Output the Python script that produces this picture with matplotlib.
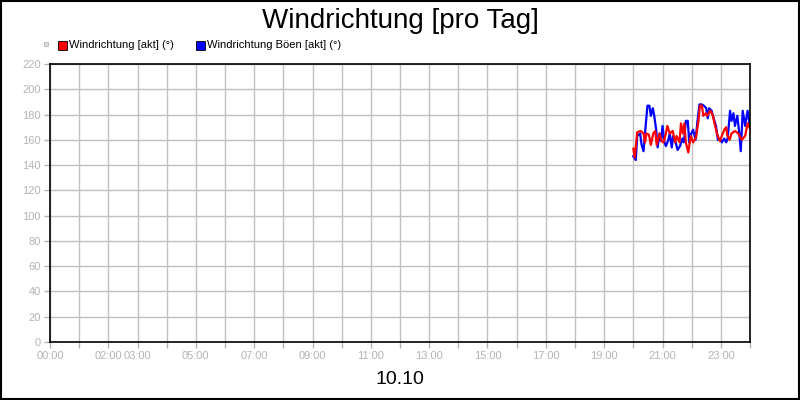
import numpy as np
import matplotlib
matplotlib.use("Agg")
import matplotlib.pyplot as plt
from matplotlib.patches import Rectangle

plt.rcParams["font.family"] = ["Liberation Sans", "DejaVu Sans"]

# ── data (minutes after 20:00, degrees) ──────────────────────────────────
red_min = [0, 3, 8, 15, 21, 24, 27, 32, 36, 41, 45, 48, 54, 58, 62, 67, 70, 75,
           81, 86, 89, 95, 98, 102, 105, 108, 113, 118, 123, 129, 134, 137, 141,
           144, 149, 152, 158, 163, 167, 172, 178, 182, 187, 191, 193, 198, 202,
           209, 216, 223, 230, 235, 240]
red_val = [153, 146, 166, 167, 165, 158, 165, 164, 156, 165, 167, 156, 165, 159,
           158, 165, 171, 165, 167, 158, 163, 158, 173, 165, 173, 158, 150, 163,
           158, 162, 175, 187, 187, 179, 181, 179, 183, 180, 173, 165, 159, 163,
           168, 170, 164, 160, 165, 167, 165, 160, 163, 173, 169]

blue_min = [0, 5, 8, 14, 17, 21, 24, 29, 33, 36, 40, 43, 47, 50, 54, 57, 60, 64,
            67, 72, 75, 79, 82, 87, 91, 96, 101, 104, 108, 112, 115, 119, 123,
            128, 132, 136, 141, 145, 150, 153, 156, 161, 166, 170, 174, 178, 182,
            187, 191, 194, 199, 202, 206, 209, 214, 218, 221, 225, 230, 235, 239]
blue_val = [147, 144, 163, 165, 156, 151, 165, 187, 187, 179, 185, 179, 168, 154,
            165, 159, 171, 158, 155, 160, 165, 154, 163, 158, 152, 155, 161, 158,
            175, 175, 158, 165, 168, 160, 175, 188, 188, 187, 185, 177, 185, 183,
            176, 171, 160, 161, 158, 161, 158, 161, 183, 175, 181, 171, 179, 165,
            151, 183, 171, 183, 173]

hour_labels = {0: "00:00", 2: "02:00", 3: "03:00", 5: "05:00", 7: "07:00",
               9: "09:00", 11: "11:00", 13: "13:00", 15: "15:00", 17: "17:00",
               19: "19:00", 21: "21:00", 23: "23:00"}

START_HOUR = 20
GRAY = "#b4b4b4"

red_h = START_HOUR + np.array(red_min) / 60.0
blue_h = START_HOUR + np.array(blue_min) / 60.0

fig = plt.figure(figsize=(8, 4), dpi=100)
fig.patch.set_facecolor("white")
ax = fig.add_axes([0.0625, 0.145, 0.875, 0.695])

ax.plot(blue_h, blue_val, color="#0000ff", lw=1.6, label="Windrichtung Böen [akt] (°)")
ax.plot(red_h, red_val, color="#ff0000", lw=1.6, label="Windrichtung [akt] (°)")

ax.set_xlim(0, 24)
ax.set_ylim(0, 220)
ax.set_xticks(range(0, 25))
ax.set_xticklabels([hour_labels.get(h, "") for h in range(0, 25)])
ax.set_yticks(range(0, 221, 20))
ax.grid(True, color="#c0c0c0", lw=1)
ax.set_axisbelow(True)
ax.tick_params(colors=GRAY, labelcolor=GRAY, labelsize=8, length=4, width=1, pad=2.5)
for s in ax.spines.values():
    s.set_color("black")
    s.set_linewidth(1.2)

fig.text(0.5, 0.948, "Windrichtung [pro Tag]", ha="center", va="center", fontsize=20)
fig.text(0.5, 0.05, "10.10", ha="center", va="center", fontsize=14)

# legend row
fig.patches.append(Rectangle((0.055, 0.885), 0.005, 0.01, transform=fig.transFigure,
                             facecolor="#dddddd", edgecolor="#aaaaaa", lw=0.5))
legend_items = [("#ff0000", "Windrichtung [akt] (°)", 0.0725),
                ("#0000ff", "Windrichtung Böen [akt] (°)", 0.2445)]
for col, txt, x0 in legend_items:
    fig.patches.append(Rectangle((x0, 0.875), 0.0115, 0.023, transform=fig.transFigure,
                                 facecolor=col, edgecolor="black", lw=0.6))
    fig.text(x0 + 0.014, 0.887, txt, ha="left", va="center", fontsize=8)

# outer frame
fig.patches.append(Rectangle((0.001, 0.002), 0.998, 0.996, transform=fig.transFigure,
                             fill=False, edgecolor="black", lw=1.5))

fig.savefig("out.png", dpi=100)
